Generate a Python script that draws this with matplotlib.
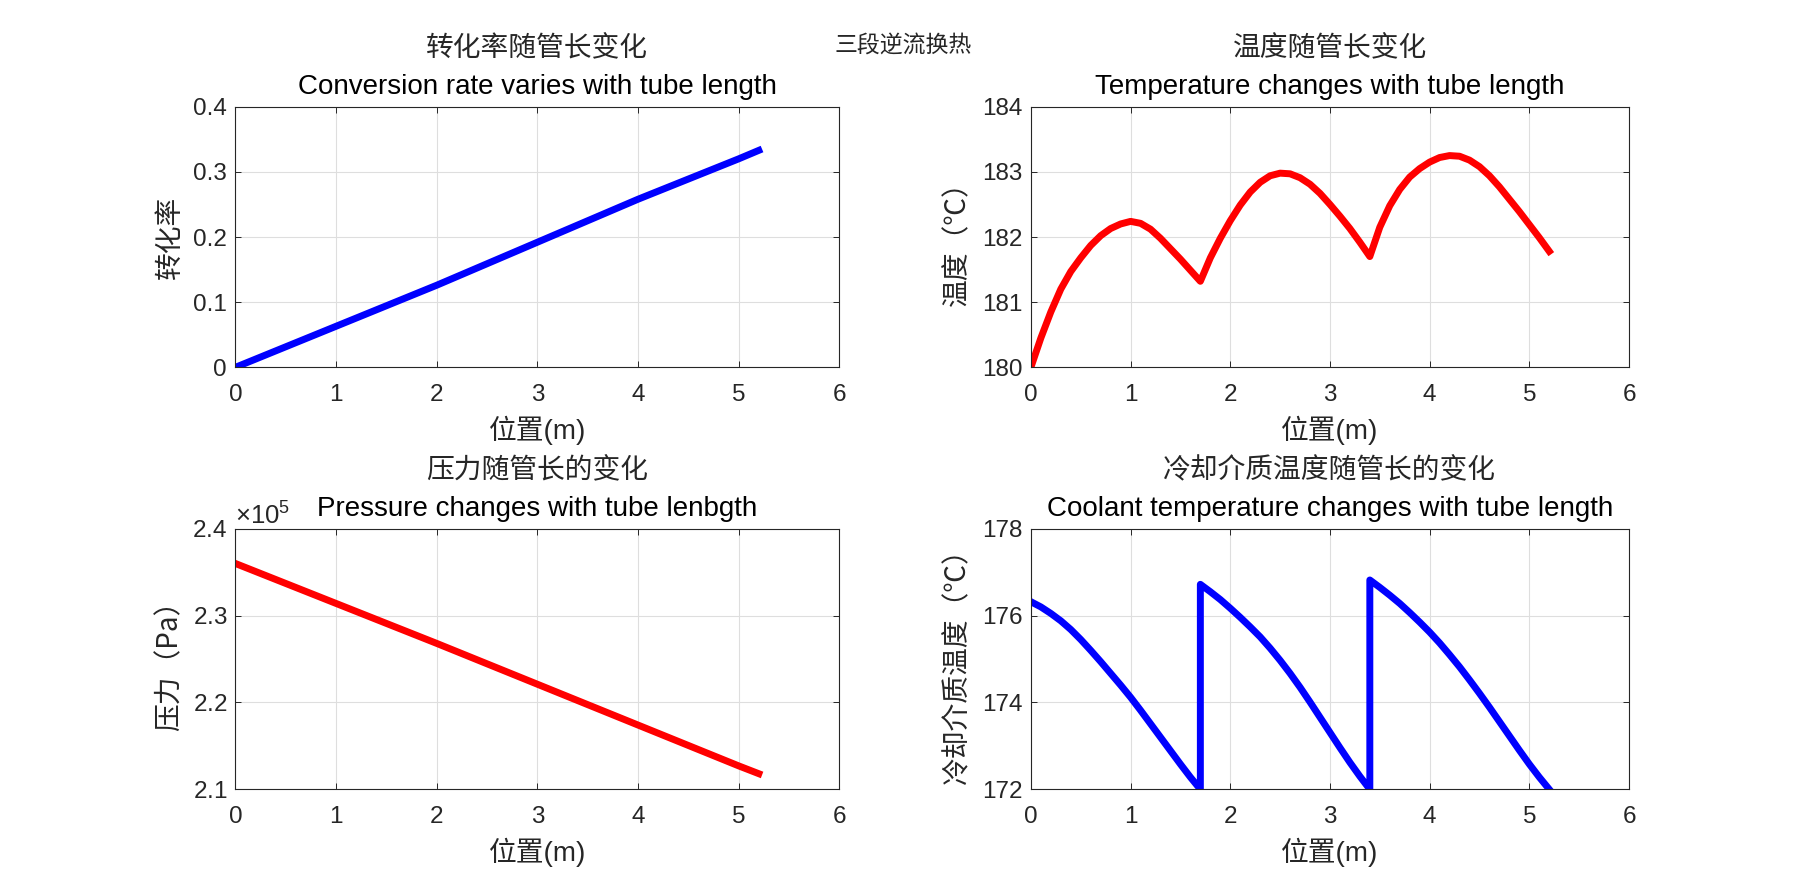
import numpy as np
import matplotlib
matplotlib.use('Agg')
import matplotlib.pyplot as plt
from matplotlib.ticker import FuncFormatter, ScalarFormatter, MultipleLocator

plt.rcParams['font.family'] = ['Liberation Sans', 'Noto Sans CJK SC']
plt.rcParams['mathtext.fontset'] = 'custom'
plt.rcParams['mathtext.rm'] = 'Liberation Sans'
plt.rcParams['mathtext.it'] = 'Liberation Sans:italic'

CJK = ['Noto Sans CJK SC', 'Liberation Sans']
MIX = ['Liberation Sans', 'Noto Sans CJK SC']

# 转化率 / 压力: 位置(m)
pos_line = [0.0, 1.0, 2.0, 3.0, 4.0, 5.0, 5.2]
conversion = [0.0, 0.063, 0.126, 0.192, 0.258, 0.320, 0.333]
pressure = [236000, 231400, 226800, 222100, 217400, 212700, 211800]

# 三段: 位置(m)
pos_seg1 = [0.0, 0.1, 0.2, 0.3, 0.4, 0.5, 0.6, 0.7, 0.8, 0.9, 1.0, 1.1, 1.2, 1.3, 1.4, 1.5, 1.6, 1.7]
pos_seg2 = [1.7, 1.8, 1.9, 2.0, 2.1, 2.2, 2.3, 2.4, 2.5, 2.6, 2.7, 2.8, 2.9, 3.0, 3.1, 3.2, 3.3, 3.4]
pos_seg3 = [3.4, 3.5, 3.6, 3.7, 3.8, 3.9, 4.0, 4.1, 4.2, 4.3, 4.4, 4.5, 4.6, 4.7, 4.8, 4.9, 5.0, 5.1, 5.2]

# 温度 (℃)
temp_seg1 = [180.0, 180.45, 180.85, 181.2, 181.47, 181.68, 181.87, 182.02, 182.13, 182.2,
             182.24, 182.21, 182.12, 181.98, 181.82, 181.66, 181.49, 181.32]
temp_seg2 = [181.32, 181.68, 181.98, 182.25, 182.49, 182.69, 182.84, 182.94, 182.98, 182.97,
             182.91, 182.81, 182.67, 182.5, 182.32, 182.13, 181.92, 181.7]
temp_seg3 = [181.7, 182.15, 182.48, 182.73, 182.92, 183.05, 183.15, 183.22, 183.25, 183.24,
             183.18, 183.08, 182.94, 182.77, 182.58, 182.39, 182.19, 181.99, 181.78]

# 冷却介质温度 (℃)
cool_seg1 = [176.32, 176.2, 176.05, 175.88, 175.68, 175.45, 175.2, 174.94, 174.67, 174.4,
             174.12, 173.82, 173.51, 173.2, 172.89, 172.58, 172.28, 172.0]
cool_seg2 = [176.72, 176.55, 176.37, 176.17, 175.96, 175.74, 175.51, 175.25, 174.97, 174.67,
             174.35, 174.01, 173.66, 173.31, 172.96, 172.62, 172.3, 172.0]
cool_seg3 = [176.82, 176.65, 176.47, 176.28, 176.07, 175.85, 175.62, 175.37, 175.1, 174.82,
             174.52, 174.21, 173.89, 173.56, 173.23, 172.9, 172.58, 172.28, 172.0]

AX_H = 260.6  # 轴高度(像素)

fig = plt.figure(figsize=(18.07, 8.9), dpi=100)
ax1 = fig.add_axes([0.1303, 0.5873, 0.3342, 0.2928])
ax2 = fig.add_axes([0.5705, 0.5873, 0.3310, 0.2928])
ax3 = fig.add_axes([0.1303, 0.1131, 0.3342, 0.2928])
ax4 = fig.add_axes([0.5705, 0.1131, 0.3310, 0.2928])


def style(ax, zh, en, ylab, ylab_dx):
    ax.set_xlim(0, 6)
    ax.xaxis.set_major_locator(MultipleLocator(1))
    ax.grid(True, color='#dedede', linewidth=0.8)
    ax.set_axisbelow(True)
    ax.tick_params(direction='in', top=True, right=True, length=4.5, width=0.7,
                   labelsize=17.5, colors='#262626')
    ax.tick_params(axis='x', pad=12)
    ax.tick_params(axis='y', pad=6)
    for s in ax.spines.values():
        s.set_color('#262626')
        s.set_linewidth(0.8)
    ax.xaxis.set_major_formatter(FuncFormatter(lambda v, p: '%g' % v))
    ax.text(0.5, 1 + 20 / AX_H, en, transform=ax.transAxes, ha='center', va='center',
            fontsize=20, family=MIX)
    ax.text(0.5, 1 + 58 / AX_H, zh, transform=ax.transAxes, ha='center', va='center',
            fontsize=20, family=CJK, color='#262626')
    ax.set_xlabel('位置(m)', fontsize=20, family=MIX, color='#262626', va='center')
    ax.xaxis.set_label_coords(0.5, -63 / AX_H)
    ax.set_ylabel(ylab, fontsize=20, family=CJK, color='#262626', va='center')
    ax.yaxis.set_label_coords(ylab_dx, 0.5)


# 转化率
ax1.plot(pos_line, conversion, color='blue', linewidth=5)
ax1.set_ylim(0, 0.4)
ax1.yaxis.set_major_locator(MultipleLocator(0.1))
ax1.yaxis.set_major_formatter(FuncFormatter(lambda v, p: '%g' % round(v, 2)))
style(ax1, '转化率随管长变化', 'Conversion rate varies with tube length', '转化率', -66 / 603.9)

# 温度
ax2.plot(pos_seg1 + pos_seg2[1:] + pos_seg3[1:], temp_seg1 + temp_seg2[1:] + temp_seg3[1:],
         color='red', linewidth=5)
ax2.set_ylim(180, 184)
ax2.yaxis.set_major_locator(MultipleLocator(1))
ax2.yaxis.set_major_formatter(FuncFormatter(lambda v, p: '%g' % v))
style(ax2, '温度随管长变化', 'Temperature changes with tube length', '温度（℃）', -74 / 598.1)

# 压力
ax3.plot(pos_line, pressure, color='red', linewidth=5)
ax3.set_ylim(210000, 240000)
ax3.yaxis.set_major_locator(MultipleLocator(10000))
fmt = ScalarFormatter(useMathText=True)
fmt.set_scientific(True)
fmt.set_powerlimits((0, 0))
fmt.set_useOffset(False)
ax3.yaxis.set_major_formatter(fmt)
style(ax3, '压力随管长的变化', 'Pressure changes with tube lenbgth', '压力（Pa）', -66 / 603.9)
ax3.yaxis.get_offset_text().set_fontsize(18.5)
ax3.yaxis.get_offset_text().set_color('#262626')

# 冷却介质温度
ax4.plot(pos_seg1 + pos_seg2 + pos_seg3, cool_seg1 + cool_seg2 + cool_seg3,
         color='blue', linewidth=5)
ax4.set_ylim(172, 178)
ax4.yaxis.set_major_locator(MultipleLocator(2))
ax4.yaxis.set_major_formatter(FuncFormatter(lambda v, p: '%g' % v))
style(ax4, '冷却介质温度随管长的变化', 'Coolant temperature changes with tube length',
      '冷却介质温度（℃）', -74 / 598.1)

fig.text(0.5, 1 - 45 / 890, '三段逆流换热', ha='center', va='center', fontsize=16.5,
         family=CJK, color='#262626')

fig.savefig('out.png', dpi=100)
